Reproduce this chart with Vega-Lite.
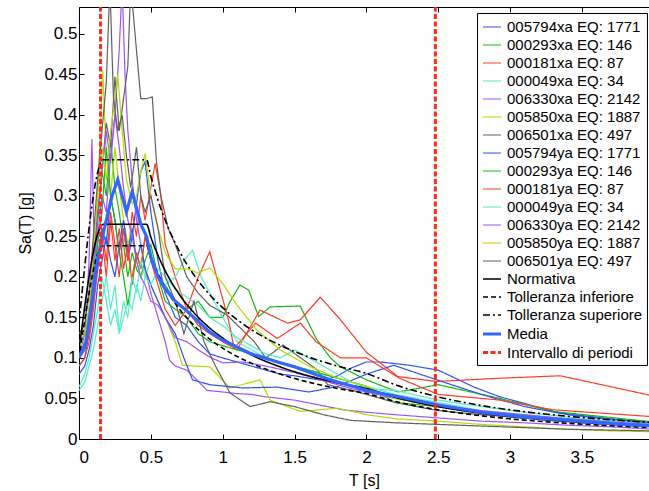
{
"$schema":"https://vega.github.io/schema/vega-lite/v6.json",
"width":570,"height":432,
"autosize":{"type":"none"},
"padding":{"left":79,"top":7,"right":0,"bottom":52},
"config":{"view":{"stroke":null},"font":"Liberation Sans",
"axis":{"domainColor":"black","tickColor":"black","labelColor":"black","titleColor":"black","grid":false,"tickSize":-5,"labelFont":"Liberation Sans","labelFontSize":17,"titleFont":"Liberation Sans","titleFontSize":16,"titleFontWeight":"normal","domainWidth":1,"tickWidth":1}},
"datasets":{
"rec":[
{"s":"005794xa EQ: 1771","T":0,"v":0.09},{"s":"005794xa EQ: 1771","T":0.04,"v":0.1},{"s":"005794xa EQ: 1771","T":0.07,"v":0.13},{"s":"005794xa EQ: 1771","T":0.1,"v":0.17},{"s":"005794xa EQ: 1771","T":0.13,"v":0.21},{"s":"005794xa EQ: 1771","T":0.16,"v":0.26},{"s":"005794xa EQ: 1771","T":0.19,"v":0.24},{"s":"005794xa EQ: 1771","T":0.22,"v":0.3},{"s":"005794xa EQ: 1771","T":0.25,"v":0.27},{"s":"005794xa EQ: 1771","T":0.28,"v":0.23},{"s":"005794xa EQ: 1771","T":0.31,"v":0.26},{"s":"005794xa EQ: 1771","T":0.34,"v":0.22},{"s":"005794xa EQ: 1771","T":0.37,"v":0.25},{"s":"005794xa EQ: 1771","T":0.4,"v":0.29},{"s":"005794xa EQ: 1771","T":0.43,"v":0.33},{"s":"005794xa EQ: 1771","T":0.46,"v":0.342},{"s":"005794xa EQ: 1771","T":0.5,"v":0.28},{"s":"005794xa EQ: 1771","T":0.55,"v":0.22},{"s":"005794xa EQ: 1771","T":0.6,"v":0.18},{"s":"005794xa EQ: 1771","T":0.67,"v":0.15},{"s":"005794xa EQ: 1771","T":0.75,"v":0.14},{"s":"005794xa EQ: 1771","T":0.83,"v":0.12},{"s":"005794xa EQ: 1771","T":0.91,"v":0.105},{"s":"005794xa EQ: 1771","T":1.0,"v":0.1},{"s":"005794xa EQ: 1771","T":1.1,"v":0.095},{"s":"005794xa EQ: 1771","T":1.2,"v":0.09},{"s":"005794xa EQ: 1771","T":1.3,"v":0.085},{"s":"005794xa EQ: 1771","T":1.4,"v":0.08},{"s":"005794xa EQ: 1771","T":1.5,"v":0.078},{"s":"005794xa EQ: 1771","T":1.6,"v":0.075},{"s":"005794xa EQ: 1771","T":1.7,"v":0.072},{"s":"005794xa EQ: 1771","T":1.8,"v":0.078},{"s":"005794xa EQ: 1771","T":1.9,"v":0.088},{"s":"005794xa EQ: 1771","T":2.0,"v":0.095},{"s":"005794xa EQ: 1771","T":2.1,"v":0.095},{"s":"005794xa EQ: 1771","T":2.3,"v":0.091},{"s":"005794xa EQ: 1771","T":2.5,"v":0.085},{"s":"005794xa EQ: 1771","T":2.75,"v":0.064},{"s":"005794xa EQ: 1771","T":2.93,"v":0.052},{"s":"005794xa EQ: 1771","T":3.35,"v":0.032},{"s":"005794xa EQ: 1771","T":3.7,"v":0.025},{"s":"005794xa EQ: 1771","T":4.0,"v":0.02},
{"s":"000293xa EQ: 146","T":0,"v":0.11},{"s":"000293xa EQ: 146","T":0.04,"v":0.12},{"s":"000293xa EQ: 146","T":0.07,"v":0.15},{"s":"000293xa EQ: 146","T":0.1,"v":0.2},{"s":"000293xa EQ: 146","T":0.13,"v":0.27},{"s":"000293xa EQ: 146","T":0.16,"v":0.33},{"s":"000293xa EQ: 146","T":0.19,"v":0.3},{"s":"000293xa EQ: 146","T":0.22,"v":0.37},{"s":"000293xa EQ: 146","T":0.25,"v":0.31},{"s":"000293xa EQ: 146","T":0.28,"v":0.28},{"s":"000293xa EQ: 146","T":0.31,"v":0.24},{"s":"000293xa EQ: 146","T":0.34,"v":0.2},{"s":"000293xa EQ: 146","T":0.37,"v":0.23},{"s":"000293xa EQ: 146","T":0.4,"v":0.21},{"s":"000293xa EQ: 146","T":0.43,"v":0.2},{"s":"000293xa EQ: 146","T":0.46,"v":0.22},{"s":"000293xa EQ: 146","T":0.5,"v":0.24},{"s":"000293xa EQ: 146","T":0.55,"v":0.2},{"s":"000293xa EQ: 146","T":0.6,"v":0.19},{"s":"000293xa EQ: 146","T":0.67,"v":0.17},{"s":"000293xa EQ: 146","T":0.75,"v":0.16},{"s":"000293xa EQ: 146","T":0.83,"v":0.17},{"s":"000293xa EQ: 146","T":0.91,"v":0.15},{"s":"000293xa EQ: 146","T":1.0,"v":0.15},{"s":"000293xa EQ: 146","T":1.05,"v":0.169},{"s":"000293xa EQ: 146","T":1.12,"v":0.19},{"s":"000293xa EQ: 146","T":1.18,"v":0.184},{"s":"000293xa EQ: 146","T":1.25,"v":0.151},{"s":"000293xa EQ: 146","T":1.33,"v":0.163},{"s":"000293xa EQ: 146","T":1.54,"v":0.164},{"s":"000293xa EQ: 146","T":1.65,"v":0.124},{"s":"000293xa EQ: 146","T":1.75,"v":0.1},{"s":"000293xa EQ: 146","T":1.82,"v":0.089},{"s":"000293xa EQ: 146","T":2.0,"v":0.073},{"s":"000293xa EQ: 146","T":2.22,"v":0.058},{"s":"000293xa EQ: 146","T":2.5,"v":0.067},{"s":"000293xa EQ: 146","T":2.93,"v":0.05},{"s":"000293xa EQ: 146","T":3.3,"v":0.034},{"s":"000293xa EQ: 146","T":4.0,"v":0.021},
{"s":"000181xa EQ: 87","T":0,"v":0.1},{"s":"000181xa EQ: 87","T":0.04,"v":0.11},{"s":"000181xa EQ: 87","T":0.07,"v":0.13},{"s":"000181xa EQ: 87","T":0.1,"v":0.17},{"s":"000181xa EQ: 87","T":0.13,"v":0.22},{"s":"000181xa EQ: 87","T":0.16,"v":0.26},{"s":"000181xa EQ: 87","T":0.19,"v":0.22},{"s":"000181xa EQ: 87","T":0.22,"v":0.28},{"s":"000181xa EQ: 87","T":0.25,"v":0.24},{"s":"000181xa EQ: 87","T":0.28,"v":0.2},{"s":"000181xa EQ: 87","T":0.31,"v":0.26},{"s":"000181xa EQ: 87","T":0.34,"v":0.22},{"s":"000181xa EQ: 87","T":0.37,"v":0.28},{"s":"000181xa EQ: 87","T":0.4,"v":0.25},{"s":"000181xa EQ: 87","T":0.43,"v":0.3},{"s":"000181xa EQ: 87","T":0.46,"v":0.27},{"s":"000181xa EQ: 87","T":0.5,"v":0.31},{"s":"000181xa EQ: 87","T":0.53,"v":0.34},{"s":"000181xa EQ: 87","T":0.57,"v":0.3},{"s":"000181xa EQ: 87","T":0.6,"v":0.24},{"s":"000181xa EQ: 87","T":0.67,"v":0.2},{"s":"000181xa EQ: 87","T":0.75,"v":0.16},{"s":"000181xa EQ: 87","T":0.83,"v":0.14},{"s":"000181xa EQ: 87","T":0.91,"v":0.13},{"s":"000181xa EQ: 87","T":1.0,"v":0.12},{"s":"000181xa EQ: 87","T":1.1,"v":0.11},{"s":"000181xa EQ: 87","T":1.26,"v":0.159},{"s":"000181xa EQ: 87","T":1.45,"v":0.143},{"s":"000181xa EQ: 87","T":1.54,"v":0.147},{"s":"000181xa EQ: 87","T":1.68,"v":0.175},{"s":"000181xa EQ: 87","T":1.82,"v":0.147},{"s":"000181xa EQ: 87","T":2.0,"v":0.107},{"s":"000181xa EQ: 87","T":2.22,"v":0.077},{"s":"000181xa EQ: 87","T":2.49,"v":0.071},{"s":"000181xa EQ: 87","T":2.93,"v":0.075},{"s":"000181xa EQ: 87","T":3.35,"v":0.078},{"s":"000181xa EQ: 87","T":4.0,"v":0.053},
{"s":"000049xa EQ: 34","T":0,"v":0.064},{"s":"000049xa EQ: 34","T":0.04,"v":0.08},{"s":"000049xa EQ: 34","T":0.07,"v":0.1},{"s":"000049xa EQ: 34","T":0.1,"v":0.13},{"s":"000049xa EQ: 34","T":0.13,"v":0.16},{"s":"000049xa EQ: 34","T":0.16,"v":0.2},{"s":"000049xa EQ: 34","T":0.19,"v":0.17},{"s":"000049xa EQ: 34","T":0.22,"v":0.14},{"s":"000049xa EQ: 34","T":0.25,"v":0.16},{"s":"000049xa EQ: 34","T":0.28,"v":0.13},{"s":"000049xa EQ: 34","T":0.31,"v":0.15},{"s":"000049xa EQ: 34","T":0.34,"v":0.17},{"s":"000049xa EQ: 34","T":0.37,"v":0.16},{"s":"000049xa EQ: 34","T":0.4,"v":0.19},{"s":"000049xa EQ: 34","T":0.43,"v":0.17},{"s":"000049xa EQ: 34","T":0.46,"v":0.2},{"s":"000049xa EQ: 34","T":0.5,"v":0.22},{"s":"000049xa EQ: 34","T":0.55,"v":0.2},{"s":"000049xa EQ: 34","T":0.6,"v":0.19},{"s":"000049xa EQ: 34","T":0.67,"v":0.2},{"s":"000049xa EQ: 34","T":0.73,"v":0.22},{"s":"000049xa EQ: 34","T":0.79,"v":0.233},{"s":"000049xa EQ: 34","T":0.85,"v":0.2},{"s":"000049xa EQ: 34","T":0.91,"v":0.18},{"s":"000049xa EQ: 34","T":1.0,"v":0.15},{"s":"000049xa EQ: 34","T":1.1,"v":0.12},{"s":"000049xa EQ: 34","T":1.2,"v":0.11},{"s":"000049xa EQ: 34","T":1.3,"v":0.1},{"s":"000049xa EQ: 34","T":1.4,"v":0.095},{"s":"000049xa EQ: 34","T":1.5,"v":0.09},{"s":"000049xa EQ: 34","T":1.6,"v":0.085},{"s":"000049xa EQ: 34","T":1.7,"v":0.08},{"s":"000049xa EQ: 34","T":1.8,"v":0.075},{"s":"000049xa EQ: 34","T":1.9,"v":0.07},{"s":"000049xa EQ: 34","T":2.0,"v":0.065},{"s":"000049xa EQ: 34","T":2.2,"v":0.055},{"s":"000049xa EQ: 34","T":2.5,"v":0.045},{"s":"000049xa EQ: 34","T":2.8,"v":0.035},{"s":"000049xa EQ: 34","T":3.1,"v":0.03},{"s":"000049xa EQ: 34","T":3.4,"v":0.024},{"s":"000049xa EQ: 34","T":3.7,"v":0.02},{"s":"000049xa EQ: 34","T":4.0,"v":0.016},
{"s":"006330xa EQ: 2142","T":0,"v":0.1},{"s":"006330xa EQ: 2142","T":0.04,"v":0.13},{"s":"006330xa EQ: 2142","T":0.07,"v":0.22},{"s":"006330xa EQ: 2142","T":0.09,"v":0.37},{"s":"006330xa EQ: 2142","T":0.11,"v":0.2},{"s":"006330xa EQ: 2142","T":0.13,"v":0.25},{"s":"006330xa EQ: 2142","T":0.16,"v":0.3},{"s":"006330xa EQ: 2142","T":0.19,"v":0.28},{"s":"006330xa EQ: 2142","T":0.22,"v":0.35},{"s":"006330xa EQ: 2142","T":0.25,"v":0.4},{"s":"006330xa EQ: 2142","T":0.28,"v":0.48},{"s":"006330xa EQ: 2142","T":0.3,"v":0.56},{"s":"006330xa EQ: 2142","T":0.32,"v":0.45},{"s":"006330xa EQ: 2142","T":0.34,"v":0.38},{"s":"006330xa EQ: 2142","T":0.37,"v":0.32},{"s":"006330xa EQ: 2142","T":0.4,"v":0.27},{"s":"006330xa EQ: 2142","T":0.43,"v":0.24},{"s":"006330xa EQ: 2142","T":0.46,"v":0.21},{"s":"006330xa EQ: 2142","T":0.5,"v":0.18},{"s":"006330xa EQ: 2142","T":0.55,"v":0.15},{"s":"006330xa EQ: 2142","T":0.6,"v":0.12},{"s":"006330xa EQ: 2142","T":0.63,"v":0.097},{"s":"006330xa EQ: 2142","T":0.67,"v":0.09},{"s":"006330xa EQ: 2142","T":0.75,"v":0.085},{"s":"006330xa EQ: 2142","T":0.82,"v":0.073},{"s":"006330xa EQ: 2142","T":0.89,"v":0.06},{"s":"006330xa EQ: 2142","T":1.0,"v":0.058},{"s":"006330xa EQ: 2142","T":1.1,"v":0.056},{"s":"006330xa EQ: 2142","T":1.2,"v":0.055},{"s":"006330xa EQ: 2142","T":1.3,"v":0.052},{"s":"006330xa EQ: 2142","T":1.5,"v":0.048},{"s":"006330xa EQ: 2142","T":1.84,"v":0.036},{"s":"006330xa EQ: 2142","T":2.0,"v":0.033},{"s":"006330xa EQ: 2142","T":2.2,"v":0.03},{"s":"006330xa EQ: 2142","T":2.5,"v":0.026},{"s":"006330xa EQ: 2142","T":2.8,"v":0.022},{"s":"006330xa EQ: 2142","T":3.1,"v":0.02},{"s":"006330xa EQ: 2142","T":3.4,"v":0.017},{"s":"006330xa EQ: 2142","T":3.7,"v":0.015},{"s":"006330xa EQ: 2142","T":4.0,"v":0.012},
{"s":"005850xa EQ: 1887","T":0,"v":0.11},{"s":"005850xa EQ: 1887","T":0.04,"v":0.12},{"s":"005850xa EQ: 1887","T":0.07,"v":0.15},{"s":"005850xa EQ: 1887","T":0.1,"v":0.2},{"s":"005850xa EQ: 1887","T":0.13,"v":0.3},{"s":"005850xa EQ: 1887","T":0.165,"v":0.455},{"s":"005850xa EQ: 1887","T":0.19,"v":0.35},{"s":"005850xa EQ: 1887","T":0.22,"v":0.3},{"s":"005850xa EQ: 1887","T":0.25,"v":0.36},{"s":"005850xa EQ: 1887","T":0.28,"v":0.31},{"s":"005850xa EQ: 1887","T":0.31,"v":0.27},{"s":"005850xa EQ: 1887","T":0.34,"v":0.24},{"s":"005850xa EQ: 1887","T":0.37,"v":0.26},{"s":"005850xa EQ: 1887","T":0.4,"v":0.22},{"s":"005850xa EQ: 1887","T":0.43,"v":0.2},{"s":"005850xa EQ: 1887","T":0.46,"v":0.21},{"s":"005850xa EQ: 1887","T":0.5,"v":0.19},{"s":"005850xa EQ: 1887","T":0.55,"v":0.17},{"s":"005850xa EQ: 1887","T":0.6,"v":0.15},{"s":"005850xa EQ: 1887","T":0.67,"v":0.12},{"s":"005850xa EQ: 1887","T":0.72,"v":0.091},{"s":"005850xa EQ: 1887","T":0.8,"v":0.09},{"s":"005850xa EQ: 1887","T":0.91,"v":0.089},{"s":"005850xa EQ: 1887","T":1.05,"v":0.063},{"s":"005850xa EQ: 1887","T":1.26,"v":0.073},{"s":"005850xa EQ: 1887","T":1.33,"v":0.048},{"s":"005850xa EQ: 1887","T":1.54,"v":0.034},{"s":"005850xa EQ: 1887","T":1.8,"v":0.038},{"s":"005850xa EQ: 1887","T":2.0,"v":0.03},{"s":"005850xa EQ: 1887","T":2.2,"v":0.025},{"s":"005850xa EQ: 1887","T":2.5,"v":0.022},{"s":"005850xa EQ: 1887","T":2.8,"v":0.018},{"s":"005850xa EQ: 1887","T":3.1,"v":0.015},{"s":"005850xa EQ: 1887","T":3.4,"v":0.012},{"s":"005850xa EQ: 1887","T":3.7,"v":0.01},{"s":"005850xa EQ: 1887","T":4.0,"v":0.009},
{"s":"006501xa EQ: 497","T":0,"v":0.12},{"s":"006501xa EQ: 497","T":0.04,"v":0.13},{"s":"006501xa EQ: 497","T":0.07,"v":0.16},{"s":"006501xa EQ: 497","T":0.1,"v":0.22},{"s":"006501xa EQ: 497","T":0.13,"v":0.28},{"s":"006501xa EQ: 497","T":0.16,"v":0.33},{"s":"006501xa EQ: 497","T":0.19,"v":0.39},{"s":"006501xa EQ: 497","T":0.22,"v":0.36},{"s":"006501xa EQ: 497","T":0.25,"v":0.447},{"s":"006501xa EQ: 497","T":0.28,"v":0.38},{"s":"006501xa EQ: 497","T":0.31,"v":0.42},{"s":"006501xa EQ: 497","T":0.34,"v":0.46},{"s":"006501xa EQ: 497","T":0.36,"v":0.56},{"s":"006501xa EQ: 497","T":0.4,"v":0.48},{"s":"006501xa EQ: 497","T":0.43,"v":0.42},{"s":"006501xa EQ: 497","T":0.47,"v":0.42},{"s":"006501xa EQ: 497","T":0.51,"v":0.422},{"s":"006501xa EQ: 497","T":0.54,"v":0.34},{"s":"006501xa EQ: 497","T":0.57,"v":0.3},{"s":"006501xa EQ: 497","T":0.62,"v":0.26},{"s":"006501xa EQ: 497","T":0.67,"v":0.24},{"s":"006501xa EQ: 497","T":0.75,"v":0.2},{"s":"006501xa EQ: 497","T":0.83,"v":0.18},{"s":"006501xa EQ: 497","T":0.91,"v":0.165},{"s":"006501xa EQ: 497","T":1.03,"v":0.153},{"s":"006501xa EQ: 497","T":1.14,"v":0.134},{"s":"006501xa EQ: 497","T":1.22,"v":0.12},{"s":"006501xa EQ: 497","T":1.3,"v":0.1},{"s":"006501xa EQ: 497","T":1.42,"v":0.116},{"s":"006501xa EQ: 497","T":1.52,"v":0.103},{"s":"006501xa EQ: 497","T":1.66,"v":0.085},{"s":"006501xa EQ: 497","T":1.73,"v":0.067},{"s":"006501xa EQ: 497","T":1.9,"v":0.06},{"s":"006501xa EQ: 497","T":2.0,"v":0.055},{"s":"006501xa EQ: 497","T":2.2,"v":0.045},{"s":"006501xa EQ: 497","T":2.5,"v":0.035},{"s":"006501xa EQ: 497","T":2.8,"v":0.03},{"s":"006501xa EQ: 497","T":3.1,"v":0.026},{"s":"006501xa EQ: 497","T":3.4,"v":0.022},{"s":"006501xa EQ: 497","T":3.7,"v":0.019},{"s":"006501xa EQ: 497","T":4.0,"v":0.016},
{"s":"005794ya EQ: 1771","T":0,"v":0.08},{"s":"005794ya EQ: 1771","T":0.04,"v":0.09},{"s":"005794ya EQ: 1771","T":0.07,"v":0.11},{"s":"005794ya EQ: 1771","T":0.1,"v":0.14},{"s":"005794ya EQ: 1771","T":0.13,"v":0.19},{"s":"005794ya EQ: 1771","T":0.16,"v":0.22},{"s":"005794ya EQ: 1771","T":0.19,"v":0.25},{"s":"005794ya EQ: 1771","T":0.22,"v":0.22},{"s":"005794ya EQ: 1771","T":0.25,"v":0.2},{"s":"005794ya EQ: 1771","T":0.28,"v":0.24},{"s":"005794ya EQ: 1771","T":0.31,"v":0.27},{"s":"005794ya EQ: 1771","T":0.34,"v":0.23},{"s":"005794ya EQ: 1771","T":0.37,"v":0.26},{"s":"005794ya EQ: 1771","T":0.4,"v":0.22},{"s":"005794ya EQ: 1771","T":0.43,"v":0.24},{"s":"005794ya EQ: 1771","T":0.46,"v":0.21},{"s":"005794ya EQ: 1771","T":0.5,"v":0.19},{"s":"005794ya EQ: 1771","T":0.55,"v":0.17},{"s":"005794ya EQ: 1771","T":0.6,"v":0.15},{"s":"005794ya EQ: 1771","T":0.67,"v":0.13},{"s":"005794ya EQ: 1771","T":0.73,"v":0.1},{"s":"005794ya EQ: 1771","T":0.79,"v":0.073},{"s":"005794ya EQ: 1771","T":0.85,"v":0.07},{"s":"005794ya EQ: 1771","T":0.91,"v":0.067},{"s":"005794ya EQ: 1771","T":1.14,"v":0.063},{"s":"005794ya EQ: 1771","T":1.38,"v":0.064},{"s":"005794ya EQ: 1771","T":1.6,"v":0.058},{"s":"005794ya EQ: 1771","T":1.8,"v":0.065},{"s":"005794ya EQ: 1771","T":2.0,"v":0.08},{"s":"005794ya EQ: 1771","T":2.19,"v":0.091},{"s":"005794ya EQ: 1771","T":2.49,"v":0.073},{"s":"005794ya EQ: 1771","T":2.8,"v":0.055},{"s":"005794ya EQ: 1771","T":3.1,"v":0.04},{"s":"005794ya EQ: 1771","T":3.4,"v":0.03},{"s":"005794ya EQ: 1771","T":3.7,"v":0.024},{"s":"005794ya EQ: 1771","T":4.0,"v":0.02},
{"s":"000293ya EQ: 146","T":0,"v":0.1},{"s":"000293ya EQ: 146","T":0.04,"v":0.11},{"s":"000293ya EQ: 146","T":0.07,"v":0.14},{"s":"000293ya EQ: 146","T":0.1,"v":0.19},{"s":"000293ya EQ: 146","T":0.13,"v":0.24},{"s":"000293ya EQ: 146","T":0.16,"v":0.28},{"s":"000293ya EQ: 146","T":0.19,"v":0.36},{"s":"000293ya EQ: 146","T":0.22,"v":0.3},{"s":"000293ya EQ: 146","T":0.25,"v":0.27},{"s":"000293ya EQ: 146","T":0.28,"v":0.23},{"s":"000293ya EQ: 146","T":0.31,"v":0.2},{"s":"000293ya EQ: 146","T":0.34,"v":0.165},{"s":"000293ya EQ: 146","T":0.37,"v":0.2},{"s":"000293ya EQ: 146","T":0.4,"v":0.23},{"s":"000293ya EQ: 146","T":0.43,"v":0.21},{"s":"000293ya EQ: 146","T":0.46,"v":0.25},{"s":"000293ya EQ: 146","T":0.5,"v":0.22},{"s":"000293ya EQ: 146","T":0.55,"v":0.2},{"s":"000293ya EQ: 146","T":0.6,"v":0.17},{"s":"000293ya EQ: 146","T":0.67,"v":0.16},{"s":"000293ya EQ: 146","T":0.75,"v":0.15},{"s":"000293ya EQ: 146","T":0.83,"v":0.13},{"s":"000293ya EQ: 146","T":0.91,"v":0.12},{"s":"000293ya EQ: 146","T":1.0,"v":0.115},{"s":"000293ya EQ: 146","T":1.1,"v":0.11},{"s":"000293ya EQ: 146","T":1.2,"v":0.105},{"s":"000293ya EQ: 146","T":1.3,"v":0.1},{"s":"000293ya EQ: 146","T":1.4,"v":0.095},{"s":"000293ya EQ: 146","T":1.5,"v":0.09},{"s":"000293ya EQ: 146","T":1.6,"v":0.085},{"s":"000293ya EQ: 146","T":1.8,"v":0.075},{"s":"000293ya EQ: 146","T":2.0,"v":0.065},{"s":"000293ya EQ: 146","T":2.2,"v":0.045},{"s":"000293ya EQ: 146","T":2.5,"v":0.04},{"s":"000293ya EQ: 146","T":2.8,"v":0.034},{"s":"000293ya EQ: 146","T":3.1,"v":0.029},{"s":"000293ya EQ: 146","T":3.4,"v":0.025},{"s":"000293ya EQ: 146","T":3.7,"v":0.022},{"s":"000293ya EQ: 146","T":4.0,"v":0.019},
{"s":"000181ya EQ: 87","T":0,"v":0.09},{"s":"000181ya EQ: 87","T":0.04,"v":0.1},{"s":"000181ya EQ: 87","T":0.07,"v":0.12},{"s":"000181ya EQ: 87","T":0.1,"v":0.16},{"s":"000181ya EQ: 87","T":0.13,"v":0.21},{"s":"000181ya EQ: 87","T":0.16,"v":0.25},{"s":"000181ya EQ: 87","T":0.19,"v":0.2},{"s":"000181ya EQ: 87","T":0.22,"v":0.27},{"s":"000181ya EQ: 87","T":0.25,"v":0.22},{"s":"000181ya EQ: 87","T":0.28,"v":0.26},{"s":"000181ya EQ: 87","T":0.31,"v":0.21},{"s":"000181ya EQ: 87","T":0.34,"v":0.24},{"s":"000181ya EQ: 87","T":0.37,"v":0.19},{"s":"000181ya EQ: 87","T":0.4,"v":0.23},{"s":"000181ya EQ: 87","T":0.43,"v":0.21},{"s":"000181ya EQ: 87","T":0.46,"v":0.25},{"s":"000181ya EQ: 87","T":0.5,"v":0.22},{"s":"000181ya EQ: 87","T":0.55,"v":0.19},{"s":"000181ya EQ: 87","T":0.6,"v":0.16},{"s":"000181ya EQ: 87","T":0.67,"v":0.14},{"s":"000181ya EQ: 87","T":0.75,"v":0.16},{"s":"000181ya EQ: 87","T":0.83,"v":0.2},{"s":"000181ya EQ: 87","T":0.91,"v":0.231},{"s":"000181ya EQ: 87","T":1.04,"v":0.147},{"s":"000181ya EQ: 87","T":1.08,"v":0.112},{"s":"000181ya EQ: 87","T":1.23,"v":0.143},{"s":"000181ya EQ: 87","T":1.38,"v":0.124},{"s":"000181ya EQ: 87","T":1.54,"v":0.143},{"s":"000181ya EQ: 87","T":1.65,"v":0.12},{"s":"000181ya EQ: 87","T":1.82,"v":0.1},{"s":"000181ya EQ: 87","T":2.0,"v":0.1},{"s":"000181ya EQ: 87","T":2.23,"v":0.075},{"s":"000181ya EQ: 87","T":2.5,"v":0.055},{"s":"000181ya EQ: 87","T":2.93,"v":0.048},{"s":"000181ya EQ: 87","T":3.3,"v":0.036},{"s":"000181ya EQ: 87","T":4.0,"v":0.0275},
{"s":"000049ya EQ: 34","T":0,"v":0.06},{"s":"000049ya EQ: 34","T":0.04,"v":0.07},{"s":"000049ya EQ: 34","T":0.07,"v":0.09},{"s":"000049ya EQ: 34","T":0.1,"v":0.11},{"s":"000049ya EQ: 34","T":0.13,"v":0.14},{"s":"000049ya EQ: 34","T":0.16,"v":0.17},{"s":"000049ya EQ: 34","T":0.19,"v":0.2},{"s":"000049ya EQ: 34","T":0.22,"v":0.16},{"s":"000049ya EQ: 34","T":0.25,"v":0.19},{"s":"000049ya EQ: 34","T":0.28,"v":0.134},{"s":"000049ya EQ: 34","T":0.31,"v":0.17},{"s":"000049ya EQ: 34","T":0.34,"v":0.15},{"s":"000049ya EQ: 34","T":0.37,"v":0.2},{"s":"000049ya EQ: 34","T":0.4,"v":0.18},{"s":"000049ya EQ: 34","T":0.43,"v":0.22},{"s":"000049ya EQ: 34","T":0.46,"v":0.2},{"s":"000049ya EQ: 34","T":0.5,"v":0.19},{"s":"000049ya EQ: 34","T":0.55,"v":0.21},{"s":"000049ya EQ: 34","T":0.6,"v":0.2},{"s":"000049ya EQ: 34","T":0.67,"v":0.185},{"s":"000049ya EQ: 34","T":0.75,"v":0.175},{"s":"000049ya EQ: 34","T":0.83,"v":0.165},{"s":"000049ya EQ: 34","T":0.91,"v":0.15},{"s":"000049ya EQ: 34","T":1.0,"v":0.14},{"s":"000049ya EQ: 34","T":1.1,"v":0.125},{"s":"000049ya EQ: 34","T":1.2,"v":0.115},{"s":"000049ya EQ: 34","T":1.3,"v":0.105},{"s":"000049ya EQ: 34","T":1.4,"v":0.1},{"s":"000049ya EQ: 34","T":1.5,"v":0.11},{"s":"000049ya EQ: 34","T":1.6,"v":0.1},{"s":"000049ya EQ: 34","T":1.7,"v":0.09},{"s":"000049ya EQ: 34","T":1.8,"v":0.08},{"s":"000049ya EQ: 34","T":1.9,"v":0.07},{"s":"000049ya EQ: 34","T":2.0,"v":0.062},{"s":"000049ya EQ: 34","T":2.2,"v":0.06},{"s":"000049ya EQ: 34","T":2.5,"v":0.048},{"s":"000049ya EQ: 34","T":2.8,"v":0.04},{"s":"000049ya EQ: 34","T":3.1,"v":0.033},{"s":"000049ya EQ: 34","T":3.4,"v":0.027},{"s":"000049ya EQ: 34","T":3.7,"v":0.022},{"s":"000049ya EQ: 34","T":4.0,"v":0.018},
{"s":"006330ya EQ: 2142","T":0,"v":0.1},{"s":"006330ya EQ: 2142","T":0.04,"v":0.11},{"s":"006330ya EQ: 2142","T":0.07,"v":0.14},{"s":"006330ya EQ: 2142","T":0.1,"v":0.2},{"s":"006330ya EQ: 2142","T":0.13,"v":0.27},{"s":"006330ya EQ: 2142","T":0.16,"v":0.33},{"s":"006330ya EQ: 2142","T":0.19,"v":0.38},{"s":"006330ya EQ: 2142","T":0.22,"v":0.34},{"s":"006330ya EQ: 2142","T":0.25,"v":0.4},{"s":"006330ya EQ: 2142","T":0.28,"v":0.36},{"s":"006330ya EQ: 2142","T":0.31,"v":0.31},{"s":"006330ya EQ: 2142","T":0.34,"v":0.27},{"s":"006330ya EQ: 2142","T":0.37,"v":0.25},{"s":"006330ya EQ: 2142","T":0.4,"v":0.22},{"s":"006330ya EQ: 2142","T":0.43,"v":0.2},{"s":"006330ya EQ: 2142","T":0.46,"v":0.19},{"s":"006330ya EQ: 2142","T":0.5,"v":0.17},{"s":"006330ya EQ: 2142","T":0.55,"v":0.165},{"s":"006330ya EQ: 2142","T":0.6,"v":0.15},{"s":"006330ya EQ: 2142","T":0.67,"v":0.125},{"s":"006330ya EQ: 2142","T":0.75,"v":0.12},{"s":"006330ya EQ: 2142","T":0.83,"v":0.11},{"s":"006330ya EQ: 2142","T":0.91,"v":0.101},{"s":"006330ya EQ: 2142","T":1.0,"v":0.094},{"s":"006330ya EQ: 2142","T":1.14,"v":0.095},{"s":"006330ya EQ: 2142","T":1.3,"v":0.09},{"s":"006330ya EQ: 2142","T":1.5,"v":0.082},{"s":"006330ya EQ: 2142","T":1.68,"v":0.073},{"s":"006330ya EQ: 2142","T":1.9,"v":0.062},{"s":"006330ya EQ: 2142","T":2.0,"v":0.058},{"s":"006330ya EQ: 2142","T":2.2,"v":0.05},{"s":"006330ya EQ: 2142","T":2.5,"v":0.042},{"s":"006330ya EQ: 2142","T":2.8,"v":0.035},{"s":"006330ya EQ: 2142","T":3.1,"v":0.03},{"s":"006330ya EQ: 2142","T":3.4,"v":0.025},{"s":"006330ya EQ: 2142","T":3.7,"v":0.021},{"s":"006330ya EQ: 2142","T":4.0,"v":0.018},
{"s":"005850ya EQ: 1887","T":0,"v":0.12},{"s":"005850ya EQ: 1887","T":0.04,"v":0.13},{"s":"005850ya EQ: 1887","T":0.07,"v":0.16},{"s":"005850ya EQ: 1887","T":0.1,"v":0.23},{"s":"005850ya EQ: 1887","T":0.13,"v":0.3},{"s":"005850ya EQ: 1887","T":0.16,"v":0.36},{"s":"005850ya EQ: 1887","T":0.19,"v":0.32},{"s":"005850ya EQ: 1887","T":0.22,"v":0.38},{"s":"005850ya EQ: 1887","T":0.25,"v":0.42},{"s":"005850ya EQ: 1887","T":0.27,"v":0.45},{"s":"005850ya EQ: 1887","T":0.3,"v":0.38},{"s":"005850ya EQ: 1887","T":0.33,"v":0.32},{"s":"005850ya EQ: 1887","T":0.37,"v":0.29},{"s":"005850ya EQ: 1887","T":0.4,"v":0.3},{"s":"005850ya EQ: 1887","T":0.43,"v":0.33},{"s":"005850ya EQ: 1887","T":0.46,"v":0.352},{"s":"005850ya EQ: 1887","T":0.5,"v":0.3},{"s":"005850ya EQ: 1887","T":0.55,"v":0.26},{"s":"005850ya EQ: 1887","T":0.6,"v":0.23},{"s":"005850ya EQ: 1887","T":0.67,"v":0.21},{"s":"005850ya EQ: 1887","T":0.75,"v":0.21},{"s":"005850ya EQ: 1887","T":0.83,"v":0.205},{"s":"005850ya EQ: 1887","T":0.91,"v":0.211},{"s":"005850ya EQ: 1887","T":1.0,"v":0.192},{"s":"005850ya EQ: 1887","T":1.1,"v":0.165},{"s":"005850ya EQ: 1887","T":1.24,"v":0.134},{"s":"005850ya EQ: 1887","T":1.4,"v":0.11},{"s":"005850ya EQ: 1887","T":1.6,"v":0.09},{"s":"005850ya EQ: 1887","T":1.8,"v":0.075},{"s":"005850ya EQ: 1887","T":2.0,"v":0.065},{"s":"005850ya EQ: 1887","T":2.2,"v":0.05},{"s":"005850ya EQ: 1887","T":2.5,"v":0.04},{"s":"005850ya EQ: 1887","T":2.8,"v":0.032},{"s":"005850ya EQ: 1887","T":3.1,"v":0.027},{"s":"005850ya EQ: 1887","T":3.4,"v":0.022},{"s":"005850ya EQ: 1887","T":3.7,"v":0.018},{"s":"005850ya EQ: 1887","T":4.0,"v":0.015},
{"s":"006501ya EQ: 497","T":0,"v":0.13},{"s":"006501ya EQ: 497","T":0.04,"v":0.14},{"s":"006501ya EQ: 497","T":0.07,"v":0.18},{"s":"006501ya EQ: 497","T":0.1,"v":0.25},{"s":"006501ya EQ: 497","T":0.13,"v":0.32},{"s":"006501ya EQ: 497","T":0.16,"v":0.38},{"s":"006501ya EQ: 497","T":0.19,"v":0.44},{"s":"006501ya EQ: 497","T":0.215,"v":0.56},{"s":"006501ya EQ: 497","T":0.24,"v":0.42},{"s":"006501ya EQ: 497","T":0.27,"v":0.38},{"s":"006501ya EQ: 497","T":0.3,"v":0.4},{"s":"006501ya EQ: 497","T":0.33,"v":0.35},{"s":"006501ya EQ: 497","T":0.36,"v":0.31},{"s":"006501ya EQ: 497","T":0.4,"v":0.36},{"s":"006501ya EQ: 497","T":0.43,"v":0.3},{"s":"006501ya EQ: 497","T":0.46,"v":0.28},{"s":"006501ya EQ: 497","T":0.5,"v":0.3},{"s":"006501ya EQ: 497","T":0.55,"v":0.26},{"s":"006501ya EQ: 497","T":0.6,"v":0.2},{"s":"006501ya EQ: 497","T":0.67,"v":0.17},{"s":"006501ya EQ: 497","T":0.73,"v":0.13},{"s":"006501ya EQ: 497","T":0.8,"v":0.17},{"s":"006501ya EQ: 497","T":0.87,"v":0.12},{"s":"006501ya EQ: 497","T":0.95,"v":0.09},{"s":"006501ya EQ: 497","T":1.05,"v":0.057},{"s":"006501ya EQ: 497","T":1.19,"v":0.04},{"s":"006501ya EQ: 497","T":1.33,"v":0.046},{"s":"006501ya EQ: 497","T":1.5,"v":0.04},{"s":"006501ya EQ: 497","T":1.7,"v":0.03},{"s":"006501ya EQ: 497","T":1.89,"v":0.023},{"s":"006501ya EQ: 497","T":2.2,"v":0.02},{"s":"006501ya EQ: 497","T":2.5,"v":0.018},{"s":"006501ya EQ: 497","T":2.8,"v":0.016},{"s":"006501ya EQ: 497","T":3.1,"v":0.014},{"s":"006501ya EQ: 497","T":3.4,"v":0.012},{"s":"006501ya EQ: 497","T":3.7,"v":0.011},{"s":"006501ya EQ: 497","T":4.0,"v":0.01}
],
"norm":[
{"s":"Normativa","T":0,"v":0.11},{"s":"Normativa","T":0.17,"v":0.265},{"s":"Normativa","T":0.47,"v":0.265},{"s":"Normativa","T":0.5,"v":0.2491},{"s":"Normativa","T":0.55,"v":0.2265},{"s":"Normativa","T":0.6,"v":0.2076},{"s":"Normativa","T":0.7,"v":0.1779},{"s":"Normativa","T":0.8,"v":0.1557},{"s":"Normativa","T":0.9,"v":0.1384},{"s":"Normativa","T":1.0,"v":0.1246},{"s":"Normativa","T":1.2,"v":0.1038},{"s":"Normativa","T":1.4,"v":0.089},{"s":"Normativa","T":1.6,"v":0.0778},{"s":"Normativa","T":1.8,"v":0.0692},{"s":"Normativa","T":2.0,"v":0.0623},{"s":"Normativa","T":2.2,"v":0.0515},{"s":"Normativa","T":2.5,"v":0.0399},{"s":"Normativa","T":2.8,"v":0.0318},{"s":"Normativa","T":3.1,"v":0.0259},{"s":"Normativa","T":3.4,"v":0.0216},{"s":"Normativa","T":3.7,"v":0.0182},{"s":"Normativa","T":4.0,"v":0.0156},
{"s":"Tolleranza inferiore","T":0,"v":0.099},{"s":"Tolleranza inferiore","T":0.17,"v":0.2385},{"s":"Tolleranza inferiore","T":0.47,"v":0.2385},{"s":"Tolleranza inferiore","T":0.5,"v":0.2242},{"s":"Tolleranza inferiore","T":0.55,"v":0.2039},{"s":"Tolleranza inferiore","T":0.6,"v":0.1868},{"s":"Tolleranza inferiore","T":0.7,"v":0.1601},{"s":"Tolleranza inferiore","T":0.8,"v":0.1401},{"s":"Tolleranza inferiore","T":0.9,"v":0.1246},{"s":"Tolleranza inferiore","T":1.0,"v":0.1121},{"s":"Tolleranza inferiore","T":1.2,"v":0.0934},{"s":"Tolleranza inferiore","T":1.4,"v":0.0801},{"s":"Tolleranza inferiore","T":1.6,"v":0.07},{"s":"Tolleranza inferiore","T":1.8,"v":0.0623},{"s":"Tolleranza inferiore","T":2.0,"v":0.0561},{"s":"Tolleranza inferiore","T":2.2,"v":0.0464},{"s":"Tolleranza inferiore","T":2.5,"v":0.0359},{"s":"Tolleranza inferiore","T":2.8,"v":0.0286},{"s":"Tolleranza inferiore","T":3.1,"v":0.0233},{"s":"Tolleranza inferiore","T":3.4,"v":0.0194},{"s":"Tolleranza inferiore","T":3.7,"v":0.0164},{"s":"Tolleranza inferiore","T":4.0,"v":0.014},
{"s":"Tolleranza superiore","T":0,"v":0.143},{"s":"Tolleranza superiore","T":0.17,"v":0.3445},{"s":"Tolleranza superiore","T":0.47,"v":0.3445},{"s":"Tolleranza superiore","T":0.5,"v":0.3238},{"s":"Tolleranza superiore","T":0.55,"v":0.2945},{"s":"Tolleranza superiore","T":0.6,"v":0.2699},{"s":"Tolleranza superiore","T":0.7,"v":0.2313},{"s":"Tolleranza superiore","T":0.8,"v":0.2024},{"s":"Tolleranza superiore","T":0.9,"v":0.1799},{"s":"Tolleranza superiore","T":1.0,"v":0.162},{"s":"Tolleranza superiore","T":1.2,"v":0.1349},{"s":"Tolleranza superiore","T":1.4,"v":0.1157},{"s":"Tolleranza superiore","T":1.6,"v":0.1011},{"s":"Tolleranza superiore","T":1.8,"v":0.09},{"s":"Tolleranza superiore","T":2.0,"v":0.081},{"s":"Tolleranza superiore","T":2.2,"v":0.067},{"s":"Tolleranza superiore","T":2.5,"v":0.0519},{"s":"Tolleranza superiore","T":2.8,"v":0.0413},{"s":"Tolleranza superiore","T":3.1,"v":0.0337},{"s":"Tolleranza superiore","T":3.4,"v":0.0281},{"s":"Tolleranza superiore","T":3.7,"v":0.0237},{"s":"Tolleranza superiore","T":4.0,"v":0.0203}
],
"top":[
{"s":"Media","g":"m","T":0,"v":0.1},{"s":"Media","g":"m","T":0.05,"v":0.12},{"s":"Media","g":"m","T":0.09,"v":0.17},{"s":"Media","g":"m","T":0.12,"v":0.21},{"s":"Media","g":"m","T":0.15,"v":0.24},{"s":"Media","g":"m","T":0.19,"v":0.27},{"s":"Media","g":"m","T":0.23,"v":0.3},{"s":"Media","g":"m","T":0.27,"v":0.32},{"s":"Media","g":"m","T":0.3,"v":0.3},{"s":"Media","g":"m","T":0.33,"v":0.28},{"s":"Media","g":"m","T":0.37,"v":0.305},{"s":"Media","g":"m","T":0.4,"v":0.285},{"s":"Media","g":"m","T":0.43,"v":0.265},{"s":"Media","g":"m","T":0.47,"v":0.25},{"s":"Media","g":"m","T":0.5,"v":0.225},{"s":"Media","g":"m","T":0.55,"v":0.2},{"s":"Media","g":"m","T":0.6,"v":0.185},{"s":"Media","g":"m","T":0.67,"v":0.17},{"s":"Media","g":"m","T":0.75,"v":0.158},{"s":"Media","g":"m","T":0.83,"v":0.145},{"s":"Media","g":"m","T":0.91,"v":0.132},{"s":"Media","g":"m","T":1.0,"v":0.122},{"s":"Media","g":"m","T":1.2,"v":0.105},{"s":"Media","g":"m","T":1.4,"v":0.094},{"s":"Media","g":"m","T":1.5,"v":0.089},{"s":"Media","g":"m","T":1.75,"v":0.073},{"s":"Media","g":"m","T":2.0,"v":0.06},{"s":"Media","g":"m","T":2.2,"v":0.053},{"s":"Media","g":"m","T":2.5,"v":0.042},{"s":"Media","g":"m","T":2.8,"v":0.033},{"s":"Media","g":"m","T":3.1,"v":0.027},{"s":"Media","g":"m","T":3.4,"v":0.023},{"s":"Media","g":"m","T":3.7,"v":0.019},{"s":"Media","g":"m","T":4.0,"v":0.016},
{"s":"Intervallo di periodi","g":"a","T":0.15,"v":0},{"s":"Intervallo di periodi","g":"a","T":0.15,"v":0.54},
{"s":"Intervallo di periodi","g":"b","T":2.48,"v":0},{"s":"Intervallo di periodi","g":"b","T":2.48,"v":0.54}
]
},
"encoding":{
"y":{"field":"v","type":"quantitative","scale":{"domain":[0,0.533],"nice":false,"zero":false},"axis":{"title":"Sa(T) [g]","values":[0,0.05,0.1,0.15,0.2,0.25,0.3,0.35,0.4,0.45,0.5],"format":".2~f","labelPadding":7,"titlePadding":10}},
"color":{"field":"s","type":"nominal","scale":{"domain":["005794xa EQ: 1771","000293xa EQ: 146","000181xa EQ: 87","000049xa EQ: 34","006330xa EQ: 2142","005850xa EQ: 1887","006501xa EQ: 497","005794ya EQ: 1771","000293ya EQ: 146","000181ya EQ: 87","000049ya EQ: 34","006330ya EQ: 2142","005850ya EQ: 1887","006501ya EQ: 497","Normativa","Tolleranza inferiore","Tolleranza superiore","Media","Intervallo di periodi"],"range":["#2c54f0","#14b814","#ff3c28","#52f0c8","#a052ff","#b4dc00","#606060","#2c54f0","#14b814","#ff3c28","#52f0c8","#a052ff","#b4dc00","#606060","#000000","#000000","#000000","#3366ff","#ff2a1a"]},
"legend":{"title":null,"orient":"none","legendX":398,"legendY":6,"symbolType":"stroke","symbolSize":324,"symbolStrokeWidth":1.8,"labelFont":"Liberation Sans","labelFontSize":15,"labelColor":"black","strokeColor":"black","fillColor":"white","padding":4,"rowPadding":0,"labelOffset":4,"labelLimit":400,"symbolLimit":50,
"encode":{"symbols":{"update":{"strokeDash":{"signal":"datum.label=='Tolleranza inferiore'?[5,3]:datum.label=='Tolleranza superiore'?[7,3,2,3]:datum.label=='Intervallo di periodi'?[5,2.5]:[1,0]"},"strokeWidth":{"signal":"datum.label=='Media'||datum.label=='Intervallo di periodi'?3.2:1.8"}}}}}},
"strokeDash":{"field":"s","type":"nominal","legend":null,"scale":{"domain":["005794xa EQ: 1771","000293xa EQ: 146","000181xa EQ: 87","000049xa EQ: 34","006330xa EQ: 2142","005850xa EQ: 1887","006501xa EQ: 497","005794ya EQ: 1771","000293ya EQ: 146","000181ya EQ: 87","000049ya EQ: 34","006330ya EQ: 2142","005850ya EQ: 1887","006501ya EQ: 497","Normativa","Tolleranza inferiore","Tolleranza superiore","Media","Intervallo di periodi"],"range":[[1,0],[1,0],[1,0],[1,0],[1,0],[1,0],[1,0],[1,0],[1,0],[1,0],[1,0],[1,0],[1,0],[1,0],[1,0],[5,3],[7,3,2,3],[1,0],[5,2.5]]}},
"strokeWidth":{"field":"s","type":"nominal","legend":null,"scale":{"type":"ordinal","domain":["005794xa EQ: 1771","000293xa EQ: 146","000181xa EQ: 87","000049xa EQ: 34","006330xa EQ: 2142","005850xa EQ: 1887","006501xa EQ: 497","005794ya EQ: 1771","000293ya EQ: 146","000181ya EQ: 87","000049ya EQ: 34","006330ya EQ: 2142","005850ya EQ: 1887","006501ya EQ: 497","Normativa","Tolleranza inferiore","Tolleranza superiore","Media","Intervallo di periodi"],"range":[1.2,1.2,1.2,1.2,1.2,1.2,1.2,1.2,1.2,1.2,1.2,1.2,1.2,1.2,1.6,1.6,1.6,3.2,3]}}
},
"layer":[
{"data":{"name":"rec"},"mark":{"type":"line","clip":true},
"encoding":{"x":{"field":"T","type":"quantitative","scale":{"domain":[0,3.967],"nice":false,"zero":false},"axis":{"orient":"bottom","title":"T [s]","values":[0,0.5,1,1.5,2,2.5,3,3.5],"format":".1~f","labelPadding":15,"titlePadding":7}}}},
{"data":{"name":"norm"},"mark":{"type":"line","clip":true,"interpolate":"monotone"},
"encoding":{"x":{"field":"T","type":"quantitative","axis":{"orient":"top","title":null,"labels":false,"values":[0,0.5,1,1.5,2,2.5,3,3.5]}}}},
{"data":{"name":"top"},"mark":{"type":"line","clip":true},
"encoding":{"x":{"field":"T","type":"quantitative","axis":null},"detail":{"field":"g"}}}
],
"resolve":{"axis":{"x":"independent"}}
}
